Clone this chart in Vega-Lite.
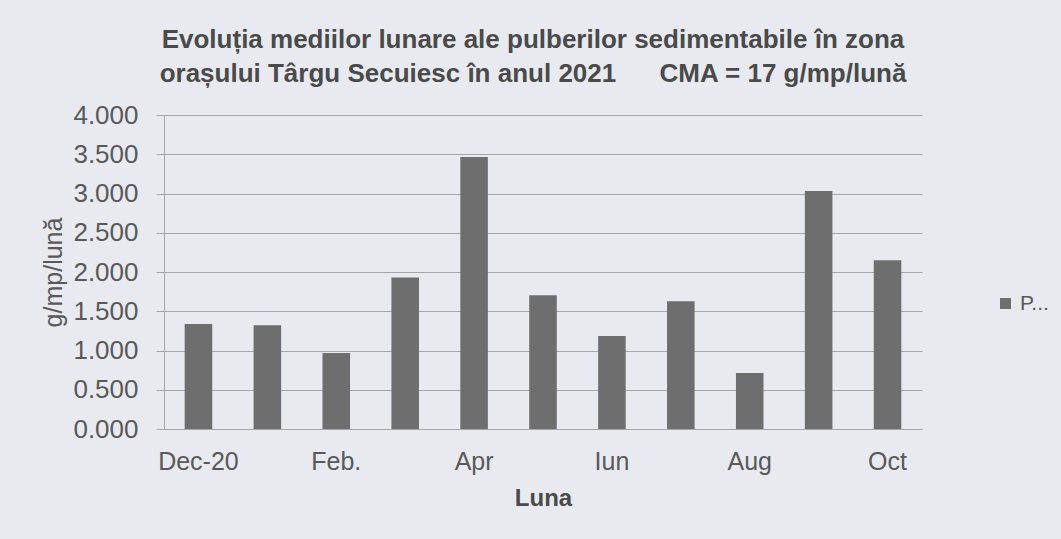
{
  "$schema": "https://vega.github.io/schema/vega-lite/v6.json",
  "width": 758,
  "height": 314,
  "autosize": {"type": "none"},
  "padding": {"left": 164, "top": 115, "right": 139, "bottom": 110},
  "background": "#e8eaef",
  "title": {
    "text": ["Evoluția mediilor lunare ale pulberilor sedimentabile în zona", "orașului Târgu Secuiesc în anul 2021\u00a0\u00a0\u00a0\u00a0\u00a0\u00a0CMA = 17 g/mp/lună"],
    "anchor": "middle",
    "font": "Liberation Sans",
    "fontSize": 26,
    "fontWeight": "bold",
    "color": "#4a4a4a",
    "lineHeight": 34,
    "offset": 15,
    "dx": -10
  },
  "data": {
    "values": [
      {"luna": "Dec-20", "valoare": 1.336, "serie": "P..."},
      {"luna": "Ian", "valoare": 1.323, "serie": "P..."},
      {"luna": "Feb.", "valoare": 0.967, "serie": "P..."},
      {"luna": "Mar", "valoare": 1.93, "serie": "P..."},
      {"luna": "Apr", "valoare": 3.466, "serie": "P..."},
      {"luna": "Mai", "valoare": 1.705, "serie": "P..."},
      {"luna": "Iun", "valoare": 1.185, "serie": "P..."},
      {"luna": "Iul", "valoare": 1.626, "serie": "P..."},
      {"luna": "Aug", "valoare": 0.713, "serie": "P..."},
      {"luna": "Sep", "valoare": 3.032, "serie": "P..."},
      {"luna": "Oct", "valoare": 2.149, "serie": "P..."}
    ]
  },
  "mark": {"type": "bar"},
  "encoding": {
    "x": {
      "field": "luna",
      "type": "nominal",
      "sort": null,
      "title": "Luna",
      "scale": {"paddingInner": 0.6, "paddingOuter": 0.3},
      "axis": {
        "labelAngle": 0,
        "ticks": false,
        "labelPadding": 20,
        "labelExpr": "indexof(['Dec-20','Feb.','Apr','Iun','Aug','Oct'], datum.value) >= 0 ? datum.label : ''",
        "labelFont": "Liberation Sans",
        "labelFontSize": 25,
        "labelColor": "#595959",
        "domainColor": "#a6a6a6",
        "titleFont": "Liberation Sans",
        "titleFontSize": 24,
        "titleFontWeight": "bold",
        "titleColor": "#4a4a4a",
        "titlePadding": 12
      }
    },
    "y": {
      "field": "valoare",
      "type": "quantitative",
      "title": "g/mp/lună",
      "scale": {"domain": [0, 4]},
      "axis": {
        "values": [0, 0.5, 1, 1.5, 2, 2.5, 3, 3.5, 4],
        "labelExpr": "format(datum.value, '.3f')",
        "tickSize": 8,
        "tickColor": "#a6a6a6",
        "gridColor": "#a6a6a6",
        "domainColor": "#a6a6a6",
        "labelPadding": 18,
        "labelFont": "Liberation Sans",
        "labelFontSize": 26,
        "labelColor": "#595959",
        "titleFont": "Liberation Sans",
        "titleFontSize": 25,
        "titleFontWeight": "normal",
        "titleColor": "#595959",
        "titlePadding": 6
      }
    },
    "color": {
      "field": "serie",
      "type": "nominal",
      "scale": {"range": ["#6e6e6e"]},
      "legend": {
        "title": null,
        "orient": "none",
        "legendX": 831,
        "legendY": 178,
        "symbolType": "square",
        "symbolSize": 120,
        "labelFont": "Liberation Sans",
        "labelFontSize": 21,
        "labelColor": "#595959"
      }
    }
  },
  "config": {
    "view": {"stroke": null},
    "axis": {"gridWidth": 1}
  }
}
